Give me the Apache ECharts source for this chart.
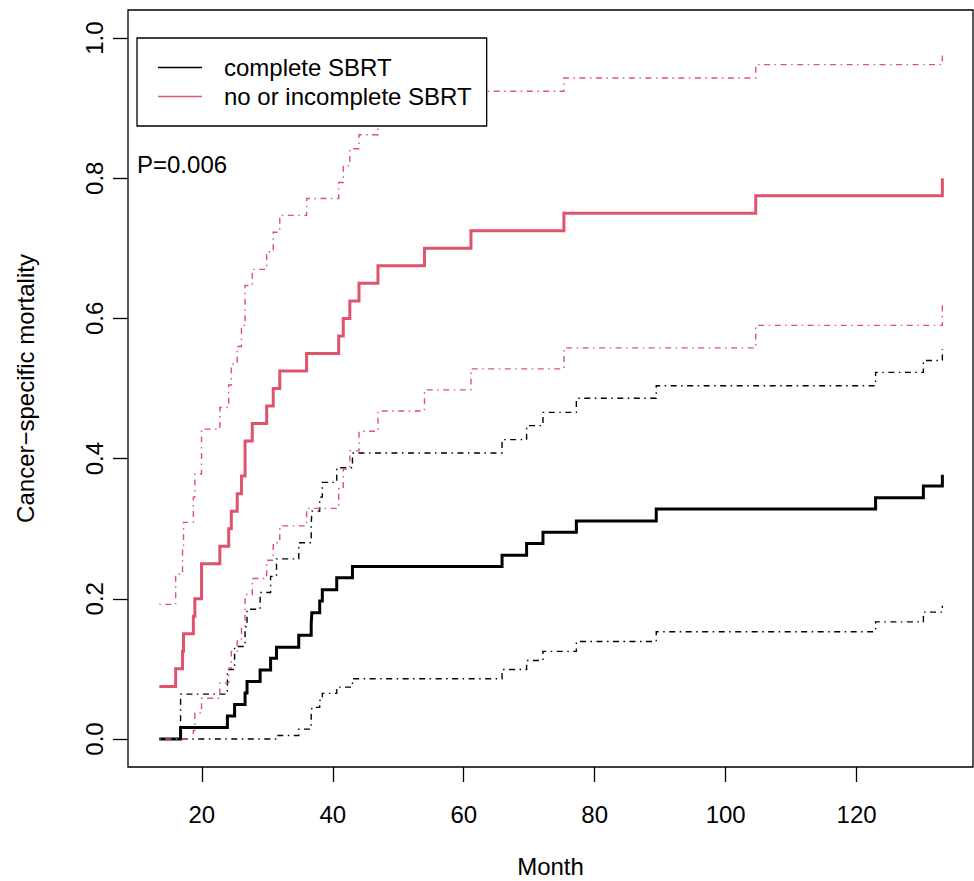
<!DOCTYPE html>
<html>
<head>
<meta charset="utf-8">
<script src="https://cdn.jsdelivr.net/npm/echarts@6/dist/echarts.min.js"></script>
<style>
  html, body { margin: 0; padding: 0; background: #fff; }
  #chart { width: 974px; height: 881px; }
</style>
</head>
<body>
<div id="chart"></div>
<script>
// ---- data ----
const xTicks = [20, 40, 60, 80, 100, 120];
const yTicks = [0, 0.2, 0.4, 0.6, 0.8, 1.0];

const seriesNames = ['complete SBRT', 'no or incomplete SBRT'];
const pValueText = 'P=0.006';

// complete SBRT (black)
const blackTimes = [13.5, 16.75, 23.9, 25.0, 26.6, 26.9, 28.9, 30.5, 31.4, 34.8, 36.7, 36.8, 38.0, 38.4, 40.6, 43.0, 65.85, 69.6, 72.1, 77.2, 89.4, 122.9, 130.2, 133.1];
const blackEst   = [0, 0.0164, 0.0328, 0.0492, 0.0656, 0.082, 0.0984, 0.115, 0.131, 0.148, 0.164, 0.180, 0.197, 0.213, 0.230, 0.246, 0.262, 0.279, 0.295, 0.311, 0.328, 0.344, 0.361, 0.377];
const blackUpper = [0, 0.064, 0.099, 0.132, 0.160, 0.185, 0.209, 0.232, 0.257, 0.280, 0.305, 0.325, 0.345, 0.366, 0.387, 0.408, 0.427, 0.447, 0.466, 0.486, 0.504, 0.523, 0.540, 0.556];
const blackLower = [0, 0, 0, 0, 0, 0, 0, 0, 0.005, 0.014, 0.035, 0.045, 0.055, 0.065, 0.074, 0.086, 0.099, 0.112, 0.125, 0.139, 0.153, 0.167, 0.181, 0.190];

// no or incomplete SBRT (red)
const redTimes = [13.5, 16.0, 17.05, 17.2, 18.7, 18.93, 19.95, 22.75, 24.1, 24.5, 25.4, 26.05, 26.6, 27.7, 29.9, 30.9, 31.9, 36.0, 40.9, 41.6, 42.6, 44.0, 46.9, 54.0, 61.1, 75.3, 104.6, 133.1];
const redEst   = [0.075, 0.1, 0.125, 0.15, 0.175, 0.2, 0.25, 0.275, 0.3, 0.325, 0.35, 0.375, 0.425, 0.45, 0.475, 0.5, 0.525, 0.55, 0.575, 0.6, 0.625, 0.65, 0.675, 0.7, 0.725, 0.75, 0.775, 0.8];
const redUpper = [0.192, 0.235, 0.27, 0.309, 0.345, 0.378, 0.442, 0.473, 0.505, 0.535, 0.56, 0.59, 0.647, 0.67, 0.695, 0.723, 0.747, 0.771, 0.794, 0.818, 0.842, 0.862, 0.882, 0.904, 0.924, 0.943, 0.962, 0.978];
const redLower = [0, 0, 0, 0, 0.012, 0.037, 0.058, 0.08, 0.101, 0.125, 0.14, 0.16, 0.206, 0.229, 0.255, 0.28, 0.304, 0.329, 0.357, 0.385, 0.411, 0.439, 0.468, 0.498, 0.528, 0.558, 0.59, 0.623];

// ---- styles ----
const FONT = 'Liberation Sans, Arial, Helvetica, sans-serif';
const BLACK = '#000000';
const RED = '#DF536B';
const dotDash = [1.5, 4.5, 6, 4.5];

function pairs(ts, vs) { return ts.map((t, i) => [t, vs[i]]); }

function stepSeries(name, ts, vs, color, width, dashed) {
  return {
    name: name,
    type: 'line',
    step: 'end',
    showSymbol: false,
    symbol: 'none',
    silent: true,
    animation: false,
    data: pairs(ts, vs),
    itemStyle: { color: color },
    lineStyle: { color: color, width: width, type: dashed ? dotDash : 'solid', cap: 'butt', join: 'miter' }
  };
}

const chart = echarts.init(document.getElementById('chart'), null, { renderer: 'svg' });

chart.setOption({
  backgroundColor: '#ffffff',
  animation: false,
  grid: {
    left: 128, top: 10, width: 845, height: 757,
    containLabel: false,
    outerBoundsMode: 'none',
    show: true, borderColor: '#000', borderWidth: 1.3, backgroundColor: 'transparent'
  },
  xAxis: {
    type: 'value',
    min: 8.72, max: 137.78,
    name: 'Month',
    nameLocation: 'middle',
    nameGap: 87,
    nameTextStyle: { fontSize: 24, lineHeight: 24, color: '#000', fontFamily: FONT },
    axisLine: { show: false, onZero: false },
    splitLine: { show: false },
    axisTick: { show: true, inside: false, length: 15, customValues: xTicks, lineStyle: { color: '#000', width: 1.3 } },
    axisLabel: { customValues: xTicks, fontSize: 24, color: '#000', fontFamily: FONT, margin: 35 }
  },
  yAxis: {
    type: 'value',
    min: -0.04, max: 1.04,
    name: 'Cancer\u2212specific mortality',
    nameLocation: 'middle',
    nameGap: 91,
    nameTextStyle: { fontSize: 24, color: '#000', fontFamily: FONT },
    axisLine: { show: false, onZero: false },
    splitLine: { show: false },
    axisTick: { show: true, inside: false, length: 15, customValues: yTicks, lineStyle: { color: '#000', width: 1.3 } },
    axisLabel: {
      customValues: yTicks, fontSize: 24, color: '#000', fontFamily: FONT, margin: 22, rotate: 90,
      formatter: v => Number(v).toFixed(1)
    }
  },
  legend: {
    data: seriesNames,
    orient: 'vertical',
    left: 137, top: 38,
    icon: 'rect',
    itemWidth: 44, itemHeight: 1.5,
    itemGap: 0,
    padding: [15, 15, 15, 21],
    borderColor: '#000', borderWidth: 1.3, borderRadius: 0,
    backgroundColor: '#fff',
    selectedMode: false,
    textStyle: { fontSize: 24, color: '#000', fontFamily: FONT, lineHeight: 29, padding: [0, 0, 0, 17] }
  },
  graphic: [{
    type: 'text', left: 137, top: 152, silent: true,
    style: { text: pValueText, fontSize: 24, fill: '#000', font: '24px ' + FONT }
  }],
  series: [
    stepSeries(seriesNames[0], blackTimes, blackEst, BLACK, 3, false),
    stepSeries('complete SBRT upper', blackTimes, blackUpper, BLACK, 1.4, true),
    stepSeries('complete SBRT lower', blackTimes, blackLower, BLACK, 1.4, true),
    stepSeries(seriesNames[1], redTimes, redEst, RED, 3, false),
    stepSeries('no or incomplete SBRT upper', redTimes, redUpper, RED, 1.4, true),
    stepSeries('no or incomplete SBRT lower', redTimes, redLower, RED, 1.4, true)
  ]
});
</script>
</body>
</html>
